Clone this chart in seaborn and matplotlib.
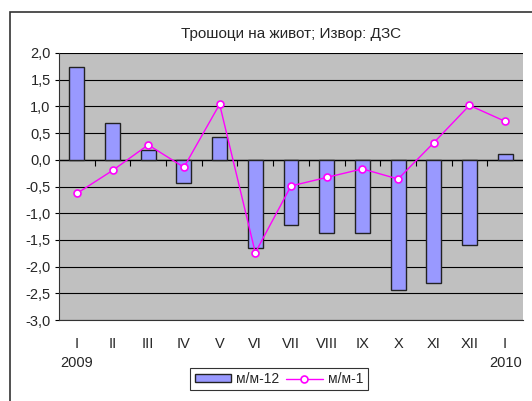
import numpy as np
import pandas as pd
import seaborn as sns
import matplotlib.pyplot as plt
from matplotlib.patches import Rectangle
from matplotlib.lines import TICKDOWN
from matplotlib.ticker import FuncFormatter, MultipleLocator
import matplotlib.transforms as mtransforms

months = ["I", "II", "III", "IV", "V", "VI", "VII", "VIII", "IX", "X", "XI", "XII", "I"]
years = ["2009", "", "", "", "", "", "", "", "", "", "", "", "2010"]
mm12 = [1.73, 0.69, 0.19, -0.43, 0.43, -1.65, -1.22, -1.38, -1.38, -2.43, -2.31, -1.59, 0.11]
mm1 = [-0.63, -0.2, 0.28, -0.14, 1.04, -1.74, -0.49, -0.33, -0.17, -0.36, 0.32, 1.02, 0.72]

df = pd.DataFrame({"pos": np.arange(len(months)), "mm12": mm12, "mm1": mm1})

sns.set_style("ticks")
plt.rcParams["font.family"] = ["Liberation Sans", "DejaVu Sans"]

fig = plt.figure(figsize=(5.32, 4.01), dpi=100)
ax = fig.add_axes([59 / 532, 1 - 320 / 401, (523 - 59) / 532, (320 - 53) / 401])
ax.set_facecolor("#C0C0C0")

sns.barplot(data=df, x="pos", y="mm12", color="#9999FF", width=0.42,
            edgecolor="#222222", linewidth=1, saturation=1, ax=ax,
            label="м/м-12", zorder=3)
sns.lineplot(data=df, x="pos", y="mm1", color="#FF00FF", linewidth=1,
             marker="o", markersize=5, markerfacecolor="white",
             markeredgecolor="#FF00FF", markeredgewidth=1.2, ax=ax,
             label="м/м-1", zorder=4)

ax.set_xlim(-0.5, len(months) - 0.5)
ax.set_ylim(-3, 2)
ax.yaxis.set_major_locator(MultipleLocator(0.5))
ax.yaxis.set_major_formatter(FuncFormatter(lambda v, p: f"{v:.1f}".replace(".", ",")))
ax.grid(axis="y", color="black", linewidth=0.8)
ax.set_axisbelow(True)
ax.set_xlabel("")
ax.set_ylabel("")

ax.set_xticks(df["pos"])
ax.set_xticklabels(months)
ax.tick_params(axis="x", length=0, pad=12, labelsize=10.5)
ax.tick_params(axis="y", left=True, length=3, width=0.8, pad=3, labelsize=10.5, color="black")

for s in ["top", "right"]:
    ax.spines[s].set_visible(False)
ax.spines["left"].set_color("#333333")
ax.spines["bottom"].set_color("#333333")

# category axis crossing at zero, tick marks between categories
ax.axhline(0, color="black", linewidth=1.0, zorder=2)
bounds = np.arange(1, len(months)) - 0.5
ax.plot(bounds, np.zeros_like(bounds), linestyle="none", marker=TICKDOWN,
        markersize=4, markeredgewidth=0.8, color="black", zorder=2)

trans = mtransforms.blended_transform_factory(ax.transData, ax.transAxes)
for i, yr in enumerate(years):
    if yr:
        ax.text(i, -0.16, yr, transform=trans, ha="center", va="center", fontsize=10.5)

ax.set_title("Трошоци на живот; Извор: ДЗС", fontsize=11, pad=11)

handles, labels = ax.get_legend_handles_labels()
order = [labels.index("м/м-12"), labels.index("м/м-1")]
leg = ax.legend([handles[i] for i in order], [labels[i] for i in order],
                loc="center", bbox_to_anchor=(279 / 532, 1 - 379 / 401),
                bbox_transform=fig.transFigure, ncol=2, frameon=True,
                fancybox=False, fontsize=10, handlelength=2.6, handleheight=0.5,
                columnspacing=0.5, handletextpad=0.4, borderpad=0.3,
                borderaxespad=0)
leg.get_frame().set_edgecolor("black")
leg.get_frame().set_linewidth(0.8)

fig.add_artist(Rectangle((10 / 532, -0.2), 1.2, 1.2 - 12 / 401,
                         transform=fig.transFigure, fill=False,
                         edgecolor="#333333", linewidth=1.2))

fig.savefig("out.png", dpi=100)
